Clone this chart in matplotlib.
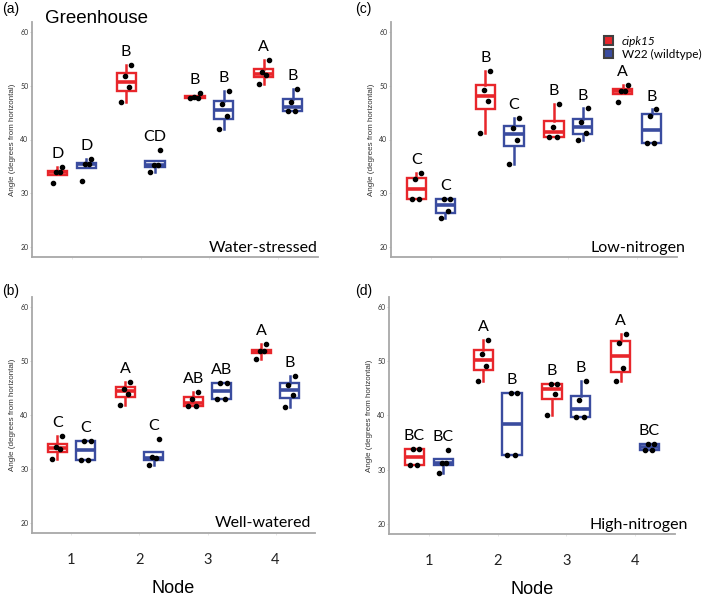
import matplotlib.pyplot as plt
from matplotlib.patches import Patch

plt.rcParams['font.family'] = ['Lato', 'DejaVu Sans']

nodes = [1, 2, 3, 4]
red = '#e8262b'
blue = '#3a4c9f'

# leaf angle per plant, one list per node (cipk15 vs W22)
ws_cipk15 = [[31.8, 33.9, 33.9, 34.9], [46.9, 49.7, 51.9, 53.9],
             [47.8, 47.8, 47.9, 48.7], [50.3, 52.0, 52.5, 54.8]]
ws_w22 = [[32.3, 35.4, 35.4, 36.3], [33.9, 35.2, 35.2, 38.0],
          [41.9, 44.4, 46.6, 49.1], [45.4, 45.4, 46.9, 49.4]]
ws_letters_cipk15 = ['D', 'B', 'B', 'A']
ws_letters_w22 = ['D', 'CD', 'B', 'B']

ww_cipk15 = [[31.9, 33.6, 34.0, 36.1], [41.8, 43.9, 44.9, 46.2],
             [41.6, 41.6, 43.0, 44.3], [50.4, 51.8, 51.8, 53.2]]
ww_w22 = [[31.7, 31.7, 35.2, 35.2], [30.7, 32.0, 32.2, 35.6],
          [42.9, 42.9, 46.0, 46.0], [41.5, 43.8, 45.5, 47.2]]
ww_letters_cipk15 = ['C', 'A', 'AB', 'A']
ww_letters_w22 = ['C', 'C', 'AB', 'B']

ln_cipk15 = [[29.0, 29.0, 32.6, 33.8], [41.3, 47.2, 49.2, 52.8],
             [40.5, 40.5, 42.4, 46.7], [46.9, 49.1, 49.1, 50.2]]
ln_w22 = [[25.3, 26.7, 29.0, 29.0], [35.4, 40.0, 42.1, 44.0],
          [39.9, 41.3, 43.2, 45.8], [39.3, 39.3, 44.4, 45.6]]
ln_letters_cipk15 = ['C', 'B', 'B', 'A']
ln_letters_w22 = ['C', 'C', 'B', 'B']

hn_cipk15 = [[30.8, 30.8, 33.8, 33.8], [46.3, 49.1, 51.4, 53.9],
             [40.1, 44.0, 45.9, 45.9], [46.3, 48.7, 53.4, 55.0]]
hn_w22 = [[29.4, 31.3, 31.3, 33.7], [32.7, 32.7, 44.1, 44.1],
          [39.7, 39.7, 42.8, 46.3], [33.6, 33.6, 34.8, 34.8]]
hn_letters_cipk15 = ['BC', 'A', 'B', 'A']
hn_letters_w22 = ['BC', 'B', 'B', 'BC']

jitter = [-0.07, 0.04, -0.02, 0.07]

fig = plt.figure(figsize=(7.09, 5.99), dpi=100)


def panel(rect, g1, g2, let1, let2, cond, cond_xy, bottom):
    ax = fig.add_axes(rect)
    for data, letters, col, shift in [(g1, let1, red, -0.21), (g2, let2, blue, 0.21)]:
        pos = [n + shift for n in nodes]
        ax.boxplot(data, positions=pos, widths=0.28, showfliers=False,
                   showcaps=False, patch_artist=True, manage_ticks=False,
                   boxprops=dict(facecolor='white', edgecolor=col, linewidth=1.7),
                   whiskerprops=dict(color=col, linewidth=1.8),
                   medianprops=dict(color=col, linewidth=2.6))
        for p, vals, lab in zip(pos, data, letters):
            ax.scatter([p + j for j in jitter], vals, s=9, color='black', zorder=3)
            ax.text(p, max(vals) + 2.4, lab, ha='center', va='center', fontsize=11.5)
    ax.set_xlim(0.42, 4.58)
    ax.set_ylim(18.1, 61.9)
    ax.set_yticks([20, 30, 40, 50, 60])
    ax.set_xticks(nodes)
    for s in ['top', 'right']:
        ax.spines[s].set_visible(False)
    for s in ['left', 'bottom']:
        ax.spines[s].set_color('#a8a8a8')
        ax.spines[s].set_linewidth(1.3)
    ax.tick_params(axis='y', labelsize=5, length=1.5, width=0.5,
                   colors='#bbbbbb', labelcolor='#333333', pad=1)
    ax.tick_params(axis='x', length=1.5, width=0.5, colors='#dddddd',
                   labelcolor='#222222', labelsize=10.5, pad=13)
    ax.set_ylabel('Angle (degrees from horizontal)', fontsize=5.8,
                  color='#333333', family='Liberation Sans', labelpad=3)
    if bottom:
        ax.set_xticklabels([str(n) for n in nodes])
        ax.set_xlabel('Node', fontsize=13, family='Liberation Sans', labelpad=9)
    else:
        ax.set_xticklabels([])
    ax.text(cond_xy[0], cond_xy[1], cond, transform=ax.transAxes,
            ha='right', va='baseline', fontsize=11.5)
    return ax


H = 1 / 599
W = 1 / 709
panel([32 * W, 1 - 257 * H, 286 * W, 235 * H], ws_cipk15, ws_w22,
      ws_letters_cipk15, ws_letters_w22, 'Water-stressed', (1.0, 0.022), False)
panel([32 * W, 1 - 533 * H, 283 * W, 236 * H], ww_cipk15, ww_w22,
      ww_letters_cipk15, ww_letters_w22, 'Well-watered', (0.985, 0.025), True)
panel([391 * W, 1 - 257 * H, 286 * W, 235 * H], ln_cipk15, ln_w22,
      ln_letters_cipk15, ln_letters_w22, 'Low-nitrogen', (1.03, 0.022), False)
panel([389 * W, 1 - 534 * H, 286 * W, 237 * H], hn_cipk15, hn_w22,
      hn_letters_cipk15, hn_letters_w22, 'High-nitrogen', (1.045, 0.02), True)

for lab, x, y in [('(a)', 2, 13), ('(b)', 2, 295), ('(c)', 355, 13), ('(d)', 355, 295)]:
    fig.text(x * W, 1 - y * H, lab, fontsize=10, family='Liberation Sans', va='baseline')
fig.text(45 * W, 1 - 23 * H, 'Greenhouse', fontsize=13.5, family='Liberation Sans',
         va='baseline')

handles = [Patch(facecolor=red, edgecolor='#404040', linewidth=1.5),
           Patch(facecolor=blue, edgecolor='#404040', linewidth=1.5)]
leg = fig.legend(handles, ['cipk15', 'W22 (wildtype)'], loc='upper left',
                 bbox_to_anchor=(598 * W, 1 - 30 * H), frameon=False,
                 fontsize=8.5, handlelength=0.8, handleheight=0.8,
                 handletextpad=0.7, labelspacing=0.15, borderpad=0)
leg.get_texts()[0].set_style('italic')

fig.savefig('out.png', dpi=100)
